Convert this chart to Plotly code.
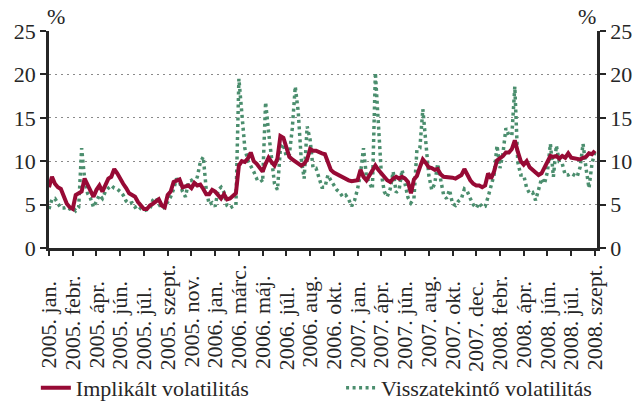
import plotly.graph_objects as go

# napi megfigyelések sorszáma (2005. jan. - 2008. szept.)
idx = list(range(185))

implikalt = [
    7.0, 8.2, 7.4, 7.0, 6.8, 5.9, 5.1, 4.7, 4.5, 6.1, 6.3, 6.5, 8.0, 7.3, 6.8, 5.9, 6.7, 7.2, 6.5, 7.3,
    8.0, 8.2, 9.1, 8.6, 7.9, 7.4, 6.9, 6.3, 6.1, 5.9, 5.3, 4.8, 4.5, 4.5, 4.9, 5.1, 5.4,
    5.6, 4.9, 4.7, 6.1, 6.5, 7.6, 7.8, 7.9, 7.0, 7.1, 7.2, 6.9, 7.5, 7.2, 7.3, 6.8, 6.2, 6.2, 6.7, 6.5,
    6.1, 5.7, 6.2, 5.6, 5.7, 6.0, 6.3, 9.5, 10.0, 9.9, 10.3, 11.0, 10.0, 9.7, 9.2, 8.8, 9.7,
    10.4, 9.9, 9.5, 10.3, 12.9, 12.7, 11.7, 10.5, 10.2, 10.0, 9.7, 9.5, 9.7, 10.2, 11.4, 11.2, 11.2, 11.0,
    10.9, 10.8, 9.9, 9.0, 8.7, 8.5, 8.3, 8.2, 8.0, 7.8, 7.7, 7.7, 7.8, 9.0, 8.2, 7.8, 8.3, 9.0, 9.5,
    9.0, 8.6, 8.2, 7.8, 7.6, 8.0, 8.2, 8.0, 8.2, 8.0, 7.6, 6.3, 7.9, 8.3, 9.3, 10.2, 9.8, 9.3, 9.2, 9.0,
    9.1, 8.5, 8.2, 8.2, 8.2, 8.1, 8.0, 8.2, 8.4, 9.1, 8.4, 7.8, 7.4, 7.2, 7.2, 7.0, 7.2,
    8.6, 8.0, 8.8, 10.1, 10.3, 10.6, 11.0, 11.0, 11.4, 12.4, 11.1, 10.0, 9.6, 10.0, 9.3, 9.0, 8.6, 8.4,
    8.6, 9.2, 9.9, 10.6, 10.5, 10.6, 10.3, 10.6, 10.4, 10.9, 10.4, 10.3, 10.3, 10.2, 10.4, 10.5, 10.9,
    10.8, 11.2,
]

visszatekinto = [
    4.5, 5.6, 5.7, 5.1, 4.6, 4.6, 4.7, 4.5, 4.7, 4.3, 4.7, 11.5, 8.0, 6.3, 5.7, 4.7, 5.4, 6.1, 5.7, 6.5,
    6.9, 7.2, 6.9, 6.8, 6.5, 6.1, 5.4, 5.1, 5.2, 4.7, 4.9, 4.5, 4.3, 4.4, 4.5, 5.5, 5.8,
    5.1, 4.5, 4.7, 5.3, 5.9, 6.8, 8.0, 7.6, 6.5, 5.9, 7.6, 7.8, 7.3, 8.2, 9.9, 10.5, 6.7, 5.0, 5.2, 4.8,
    6.7, 7.0, 6.4, 4.9, 4.6, 4.8, 4.9, 19.5, 15.5, 11.5, 10.1, 9.5, 8.8, 8.0, 8.1, 7.6, 16.8,
    13.4, 9.9, 7.4, 6.7, 11.5, 12.0, 10.5, 10.7, 13.8, 18.6, 15.7, 10.3, 8.0, 14.0, 12.5, 9.2, 9.2, 8.1,
    7.0, 7.0, 8.4, 7.8, 7.3, 6.7, 6.4, 5.9, 6.1, 5.6, 4.8, 5.5, 6.8, 8.6, 11.5, 8.2, 7.5, 6.8, 20.2,
    14.5, 8.6, 6.5, 5.9, 6.8, 8.8, 6.4, 6.7, 9.0, 7.6, 5.8, 5.2, 5.7, 11.3, 11.5, 16.0, 11.7, 8.4, 6.7,
    7.4, 9.7, 7.8, 6.1, 5.7, 6.7, 5.1, 4.9, 5.4, 5.7, 6.8, 6.5, 5.7, 5.0, 4.6, 5.2, 4.7, 4.8,
    5.9, 7.2, 8.4, 11.8, 9.2, 10.9, 13.8, 13.0, 13.0, 18.6, 9.9, 8.4, 8.4, 6.9, 6.3, 6.4, 5.5, 6.7,
    8.0, 7.4, 8.8, 12.0, 8.2, 11.8, 9.9, 9.7, 8.4, 8.4, 8.6, 8.4, 8.2, 9.3, 12.0, 9.2, 6.9, 9.7, 11.1,
]

tick_pos = list(range(0, 185, 8))
tick_labels = [
    '2005. jan.', '2005. febr.', '2005. ápr.', '2005. jún.', '2005. júl.', '2005. szept.',
    '2005. nov.', '2006. jan.', '2006. márc.', '2006. máj.', '2006. júl.', '2006. aug.',
    '2006. okt.', '2007. jan.', '2007. ápr.', '2007. jún.', '2007. aug.', '2007. okt.',
    '2007. dec.', '2008. febr.', '2008. ápr.', '2008. jún.', '2008. júl.', '2008. szept.',
]
# a feliratok alul egy vonalban kezdődnek -> rövidebbek kitöltése
pad = {'jan.': 3, 'febr.': 2, 'ápr.': 3, 'jún.': 3, 'júl.': 4, 'szept.': 0,
       'nov.': 2, 'márc.': 0, 'máj.': 2, 'aug.': 2, 'okt.': 3, 'dec.': 3}
tick_text = [t + '\u00a0' * pad[t.split(' ')[1]] for t in tick_labels]

RED = '#970A35'
GREEN = '#4B8E6E'
TXT = '#262626'
FONT = 'Liberation Serif'
FS = 22

fig = go.Figure(
    [
        go.Scatter(
            x=idx, y=visszatekinto, name='Visszatekintő volatilitás', mode='lines',
            line=dict(color=GREEN, width=3.5, dash='3px,3.5px'), legend='legend2',
        ),
        go.Scatter(
            x=idx, y=implikalt, name='Implikált volatilitás', mode='lines',
            line=dict(color=RED, width=4), legend='legend',
        ),
        go.Scatter(
            x=idx, y=implikalt, yaxis='y2', mode='lines', showlegend=False,
            hoverinfo='skip', line=dict(width=0), opacity=0,
        ),
    ]
)

yax = dict(
    range=[0, 25], tickvals=[0, 5, 10, 15, 20, 25],
    showline=True, linecolor=TXT, linewidth=2.5,
    ticks='outside', ticklen=6, tickwidth=2, tickcolor=TXT,
    zeroline=False, fixedrange=True, automargin=False,
    tickfont=dict(family=FONT, size=FS, color=TXT),
)
leg = dict(
    orientation='h', xanchor='left', y=-0.645, yanchor='middle',
    font=dict(family=FONT, size=FS, color=TXT), bgcolor='rgba(0,0,0,0)', itemwidth=30,
)

fig.update_layout(
    width=638, height=401,
    margin={'l': 49, 'r': 41, 't': 31, 'b': 153, 'autoexpand': False},
    plot_bgcolor='white', paper_bgcolor='white',
    font=dict(family=FONT, size=FS, color=TXT),
    showlegend=True,
    xaxis=dict(
        range=[0, 184.7], tickvals=tick_pos, ticktext=tick_text, tickangle=-90,
        showline=True, linecolor=TXT, linewidth=2.5,
        ticks='outside', ticklen=5, tickwidth=2, tickcolor=TXT,
        showgrid=False, zeroline=False, automargin=False, fixedrange=True,
        tickfont=dict(family=FONT, size=FS, color=TXT),
    ),
    yaxis=dict(**yax, showgrid=True, gridcolor='#8a8a8a', griddash='1.5px,4.5px', gridwidth=1.2),
    yaxis2=dict(**yax, overlaying='y', side='right', showgrid=False),
    legend=dict(**leg, x=-0.024),
    legend2=dict(**leg, x=0.533),
    annotations=[
        dict(text='%', xref='paper', yref='paper', x=0.012, y=1.0, xanchor='center',
             yanchor='bottom', showarrow=False, font=dict(family=FONT, size=FS, color=TXT)),
        dict(text='%', xref='paper', yref='paper', x=0.982, y=1.0, xanchor='center',
             yanchor='bottom', showarrow=False, font=dict(family=FONT, size=FS, color=TXT)),
    ],
)

fig.write_html('out.html', config={'displayModeBar': False},
               post_script="document.body.style.margin='0';")
